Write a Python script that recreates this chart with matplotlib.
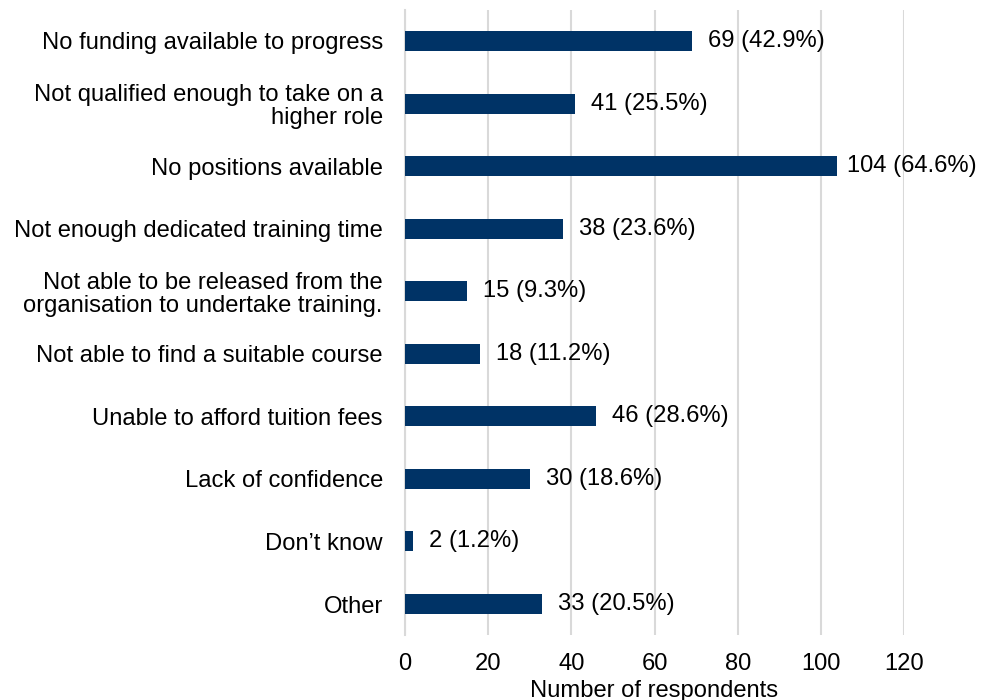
import matplotlib
matplotlib.use("Agg")
import matplotlib.pyplot as plt

plt.rcParams['font.family'] = ['Liberation Sans', 'DejaVu Sans']

categories = [
    "No funding available to progress",
    "Not qualified enough to take on a\nhigher role",
    "No positions available",
    "Not enough dedicated training time",
    "Not able to be released from the\norganisation to undertake training.",
    "Not able to find a suitable course",
    "Unable to afford tuition fees",
    "Lack of confidence",
    "Don\u2019t know",
    "Other",
]
counts = [69, 41, 104, 38, 15, 18, 46, 30, 2, 33]
percents = [42.9, 25.5, 64.6, 23.6, 9.3, 11.2, 28.6, 18.6, 1.2, 20.5]
xticks = [0, 20, 40, 60, 80, 100, 120]

FS = 17.1

fig = plt.figure(figsize=(9.81, 7.0), dpi=100)
ax = fig.add_axes([405 / 981, 1 - 635.3 / 700, (904 - 405) / 981, (635.3 - 9.7) / 700])

ypos = list(range(len(categories)))
ax.barh(ypos, counts, height=0.32, color="#003366", zorder=3)

# value labels right of the bar end; the longest one is pulled in to fit
for y, c, p in zip(ypos, counts, percents):
    off = 7 if c > 100 else 11.5
    ax.annotate(f"{c} ({p}%)", xy=(c, y), xytext=(off, 0), textcoords="offset points",
                ha="left", va="center", fontsize=FS, color="#000000",
                annotation_clip=False)

ax.set_yticks(ypos)
ax.set_yticklabels(categories, fontsize=FS, linespacing=1.08)
ax.set_ylim(len(categories) - 0.5, -0.5)
ax.set_xlim(0, 120)
ax.set_xticks(xticks)
ax.set_xticklabels([str(t) for t in xticks], fontsize=FS)
ax.set_xlabel("Number of respondents", fontsize=FS, labelpad=3)

ax.grid(axis="x", color="#D9D9D9", linewidth=1.5, zorder=0)
for s in ["top", "right", "bottom"]:
    ax.spines[s].set_visible(False)
ax.spines["left"].set_color("#D9D9D9")
ax.spines["left"].set_linewidth(1.5)
ax.tick_params(axis="x", length=0, pad=13)
ax.tick_params(axis="y", length=0, pad=16)

fig.savefig("out.png", dpi=100)
